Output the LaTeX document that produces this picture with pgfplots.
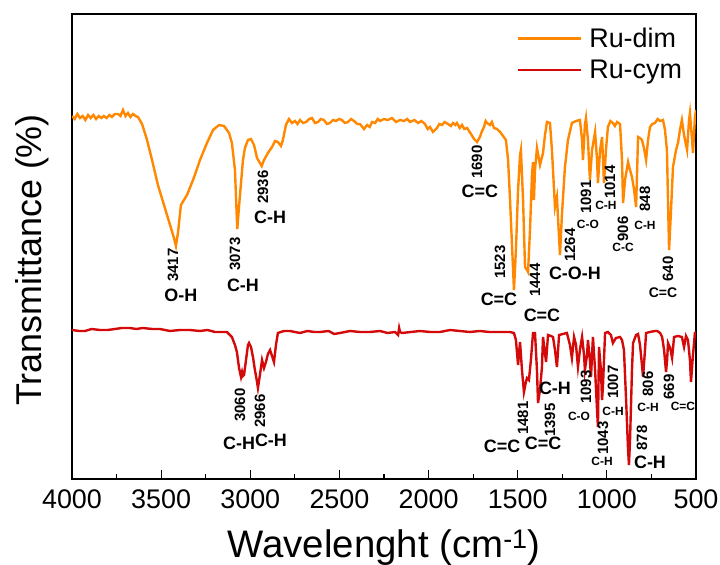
\documentclass[border=0pt]{standalone}
\usepackage{pgfplots}
\pgfplotsset{compat=1.18}
\usepackage{fontspec}
\setmainfont{Liberation Sans}
\definecolor{cOr}{RGB}{255,136,0}
\definecolor{cRd}{RGB}{212,10,10}
\begin{document}
\begin{tikzpicture}[
  num/.style={rotate=90, font=\bfseries\fontsize{15}{15}\selectfont, inner sep=0pt},
  big/.style={font=\bfseries\fontsize{18}{18}\selectfont, inner sep=0pt},
  sml/.style={font=\bfseries\fontsize{12}{12}\selectfont, inner sep=0pt}]
\useasboundingbox (-72bp,-86bp) rectangle (648bp,479bp);
\begin{axis}[
  at={(0,0)}, anchor=south west, scale only axis,
  width=624bp, height=465bp,
  xmin=500, xmax=4000, x dir=reverse, ymin=86, ymax=551,
  xtick={500,1000,...,4000}, minor x tick num=1, ytick=\empty,
  xtick pos=bottom, tick align=inside,
  major tick length=9bp, minor tick length=5bp,
  axis line style={line width=1.3bp},
  every tick/.style={line width=1.2bp, black},
  /pgf/number format/assume math mode=true,
  /pgf/number format/1000 sep={},
  ticklabel style={font=\fontsize{27}{30}\selectfont},
  xticklabel style={anchor=base, yshift=-29bp},
  xlabel={Wavelenght (cm\textsuperscript{-1})},
  xlabel style={font=\fontsize{38.5}{40}\selectfont, at={(axis description cs:0.5,-0.168)}, anchor=base},
  ylabel={Transmittance (\%)},
  ylabel style={font=\fontsize{36}{40}\selectfont, at={(axis description cs:-0.0641,0.471)}, anchor=center},
  legend style={draw=none, fill=none, font=\fontsize{27}{31}\selectfont,
    at={(rel axis cs:0.708,0.979)}, anchor=north west, row sep=7bp,
    /tikz/every odd column/.append style={column sep=5bp}},
  legend cell align=left,
  legend image code/.code={\draw[#1] (0bp,0bp) -- (63bp,0bp);},
]
\addplot[cOr, line width=2.4bp] coordinates {
(4000,449)(3985,446)(3970,451)(3955,447)(3940,449)(3925,445)(3910,450)(3895,447)
(3880,450)(3865,446)(3850,449)(3835,447)(3821,449)(3806,447)(3790,450)(3776,448)
(3760,451)(3742,451)(3728,449)(3714,455)(3700,449)(3686,452)(3672,448)(3658,451)
(3644,449)(3630,448)(3607,441)(3579,425)(3551,405)(3518,380)(3484,360)
(3450,340)(3428,327)(3417,319)(3405,333)(3389,360)(3355,370)(3321,385)(3282,405)
(3243,422)(3209,435)(3175,440)(3147,439)(3119,432)(3103,422)(3086,395)(3073,336)
(3060,365)(3041,405)(3030,417)(3013,425)(2996,426)(2979,420)(2962,407)(2936,399)
(2923,405)(2901,412)(2878,418)(2861,424)(2845,423)(2828,419)(2817,425)(2800,440)
(2783,446)(2766,442)(2749,444)(2735,441)(2721,445)(2704,442)(2687,443)(2670,446)
(2654,447)(2637,442)(2620,443)(2604,446)(2587,445)(2570,441)(2553,442)(2536,445)
(2519,444)(2502,446)(2486,445)(2469,442)(2452,443)(2435,446)(2418,444)(2400,441)
(2385,441)(2362,436)(2345,440)(2330,438)(2317,443)(2300,442)(2285,446)(2272,444)
(2250,446)(2228,445)(2205,447)(2183,443)(2160,445)(2138,444)(2120,446)(2104,443)
(2080,445)(2059,442)(2040,444)(2020,441)(2005,436)(1992,438)(1975,433)(1953,437)
(1940,441)(1925,440)(1910,443)(1891,441)(1875,439)(1863,442)(1850,440)(1841,442)
(1825,437)(1812,440)(1800,436)(1784,437)(1762,431)(1745,426)(1728,423)(1712,428)
(1700,434)(1689,438)(1680,444)(1672,442)(1655,440)(1645,443)(1633,437)
(1616,436)(1599,433)(1582,429)(1566,425)(1554,405)(1543,365)(1532,320)(1521,275)
(1510,315)(1498,375)(1487,410)(1482,415)(1470,365)(1459,298)(1448,295)(1442,293)
(1431,335)(1420,390)(1414,403)(1409,365)(1403,395)(1392,417)(1375,400)(1358,412)
(1347,430)(1336,443)(1319,442)(1308,415)(1291,358)(1280,368)(1263,310)(1252,350)
(1235,398)(1218,425)(1196,442)(1173,444)(1151,445)(1139,425)(1134,405)(1123,440)
(1117,447)(1106,425)(1095,385)(1083,415)(1066,433)(1055,405)(1050,382)(1038,415)
(1027,428)(1016,382)(1005,415)(994,438)(980,444)(966,442)(955,439)(943,443)(926,441)(915,405)
(909,362)(898,385)(881,403)(870,395)(859,388)(847,375)(836,358)(825,428)
(814,427)(803,425)(792,417)(780,405)(769,425)(758,438)(745,441)(730,442)(715,446)(701,444)
(685,445)(674,435)(663,415)(651,315)(640,355)(629,398)(612,415)(601,422)
(590,435)(579,445)(567,430)(550,415)(539,445)(534,452)(522,425)(517,412)
(506,447)(500,455)
};
\addlegendentry{Ru-dim}
\addplot[cRd, line width=2.4bp] coordinates {
(4000,235)(3960,234)(3927,234)(3890,236)(3843,235)(3800,235)(3759,236)(3720,237)
(3675,237)(3640,236)(3602,237)(3550,236)(3506,236)(3450,234)(3394,235)(3340,235)
(3282,234)(3240,235)(3198,233)(3160,233)(3131,233)(3103,228)(3086,220)(3075,213)(3063,197)(3052,188)
(3046,193)(3041,189)(3035,190)(3024,205)(3013,220)(3007,222)(2996,218)(2985,208)
(2974,195)(2962,183)(2957,177)(2946,190)(2934,205)(2923,197)(2912,203)(2901,211)
(2889,215)(2878,209)(2867,203)(2856,220)(2845,232)(2811,234)(2777,234)(2750,233)(2721,232)
(2680,234)(2640,233)(2609,233)(2560,234)(2530,231)(2497,232)(2440,234)(2385,233)(2330,233)
(2272,234)(2230,232)(2188,233)(2171,230)(2165,237)(2160,233)(2149,232)
(2100,233)(2048,234)(1990,233)(1936,233)(1880,235)(1824,234)(1770,233)(1712,234)(1660,233)(1599,233)(1543,233)(1521,232)(1510,225)
(1498,200)(1487,223)(1476,195)(1465,173)(1454,183)(1448,187)(1437,185)(1426,205)
(1414,232)(1403,232)(1392,195)(1386,162)(1375,175)(1364,198)(1358,228)(1341,203)
(1330,230)(1313,229)(1302,228)(1291,215)(1280,198)(1268,230)(1246,231)(1224,232)
(1207,220)(1196,207)(1184,228)(1173,220)(1162,198)(1151,215)(1139,228)(1128,210)
(1123,195)(1111,210)(1106,225)(1095,205)(1089,188)(1078,228)(1066,195)(1055,155)
(1050,138)(1044,218)(1033,195)(1027,165)(1022,178)(1010,232)(994,233)(977,230)
(966,222)(949,227)(926,228)(915,225)(904,215)(892,165)(881,115)(876,100)
(870,125)(859,195)(853,222)(836,230)(825,231)(814,220)(803,200)(797,188)
(786,215)(780,232)(758,233)(730,234)(718,234)(701,232)(690,228)(679,215)
(668,193)(662,205)(657,222)(645,217)(634,207)(623,228)(601,229)(579,228)
(567,218)(556,229)(545,225)(534,205)(528,183)(517,210)(506,232)(500,233)
};
\addlegendentry{Ru-cym}
% Ru-dim annotations
\node[num] at (axis cs:3433,300) {3417};
\node[big] at (axis cs:3389,270) {O-H};
\node[num] at (axis cs:3086,311) {3073};
\node[big] at (axis cs:3041,280) {C-H};
\node[num] at (axis cs:2929,378) {2936};
\node[big] at (axis cs:2889,348) {C-H};
\node[num] at (axis cs:1728,403) {1690};
\node[big] at (axis cs:1712,374) {C=C};
\node[num] at (axis cs:1599,303) {1523};
\node[big] at (axis cs:1605,266) {C=C};
\node[num] at (axis cs:1403,285) {1444};
\node[big] at (axis cs:1364,250) {C=C};
\node[num] at (axis cs:1207,320) {1264};
\node[big] at (axis cs:1179,292) {C-O-H};
\node[num] at (axis cs:1117,368) {1091};
\node[sml] at (axis cs:1106,341) {C-O};
\node[num] at (axis cs:982,383) {1014};
\node[sml] at (axis cs:1005,360) {C-H};
\node[num] at (axis cs:909,336) {906};
\node[sml] at (axis cs:909,318) {C-C};
\node[num] at (axis cs:786,366) {848};
\node[sml] at (axis cs:786,340) {C-H};
\node[num] at (axis cs:657,296) {640};
\node[sml,font=\bfseries\fontsize{14}{14}\selectfont] at (axis cs:685,272) {C=C};
% Ru-cym annotations
\node[num] at (axis cs:3058,160) {3060};
\node[big] at (axis cs:3063,122) {C-H};
\node[num] at (axis cs:2945,154) {2966};
\node[big] at (axis cs:2884,125) {C-H};
\node[num] at (axis cs:1470,147) {1481};
\node[big] at (axis cs:1588,119) {C=C};
\node[num] at (axis cs:1319,145) {1395};
\node[big] at (axis cs:1358,122) {C=C};
\node[big] at (axis cs:1291,177) {C-H};
\node[num] at (axis cs:1117,178) {1093};
\node[sml] at (axis cs:1156,149) {C-O};
\node[num] at (axis cs:1022,127) {1043};
\node[sml] at (axis cs:1027,104) {C-H};
\node[num] at (axis cs:965,183) {1007};
\node[sml] at (axis cs:965,154) {C-H};
\node[num] at (axis cs:803,127) {878};
\node[big] at (axis cs:758,103) {C-H};
\node[num] at (axis cs:769,181) {806};
\node[sml] at (axis cs:769,158) {C-H};
\node[num] at (axis cs:651,178) {669};
\node[sml] at (axis cs:573,159) {C=C};
\end{axis}
\end{tikzpicture}
\end{document}
